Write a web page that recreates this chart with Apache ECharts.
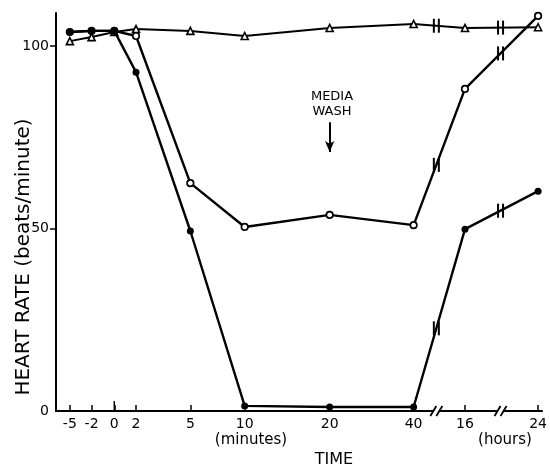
<!DOCTYPE html>
<html><head><meta charset="utf-8">
<script src="https://cdn.jsdelivr.net/npm/echarts@6/dist/echarts.min.js"></script>
<style>html,body{margin:0;padding:0;background:#fff}#c{width:550px;height:466px}</style>
</head><body><div id="c"></div>
<script>
// Time tick labels and their place on the drawn (non-linear, broken) time scale
const timeLabels = ['-5', '-2', '0', '2', '5', '10', '20', '40', '16', '24'];
const timeSlots = [14, 36, 59, 81, 136, 191, 277, 362, 414, 488];
const breakSlots = [385, 450];
// Heart rate (beats/minute)
const filledCircle = [103.8, 104.1, 104.1, 92.8, 49.3, 1.4, 1.1, 1.1, 49.8, 60.2];
const openCircle = [103.8, 104.1, 104.1, 102.7, 62.4, 50.4, 53.7, 50.9, 88.2, 108.2];
const openTriangle = [101.3, 102.4, 103.8, 104.6, 104.1, 102.7, 104.9, 106.0, 104.9, 105.1];
const yTicks = [0, 50, 100];
const washTime = '20';
const washArrow = [79.1, 70.9];

const FONT = 'DejaVu Sans';
const pts = arr => arr.map((v, i) => [timeSlots[i], v]);

function interp(arr, xs) {
  for (let i = 0; i < timeSlots.length - 1; i++) {
    if (xs >= timeSlots[i] && xs <= timeSlots[i + 1]) {
      const t = (xs - timeSlots[i]) / (timeSlots[i + 1] - timeSlots[i]);
      return arr[i] + t * (arr[i + 1] - arr[i]);
    }
  }
  return null;
}
const seriesBreaks = [];
[filledCircle, openCircle, openTriangle].forEach(arr => {
  breakSlots.forEach(b => seriesBreaks.push([b, interp(arr, b)]));
});

function renderSeriesBreak(params, api) {
  const p = api.coord([api.value(0), api.value(1)]);
  const h = 7, d = 2.5;
  const st = { stroke: '#000', lineWidth: 2 };
  return { type: 'group', children: [
    { type: 'line', shape: { x1: p[0] - d, y1: p[1] - h, x2: p[0] - d, y2: p[1] + h }, style: st },
    { type: 'line', shape: { x1: p[0] + d, y1: p[1] - h, x2: p[0] + d, y2: p[1] + h }, style: st }
  ]};
}
function renderAxisBreak(params, api) {
  const p = api.coord([api.value(0), 0]);
  const st = { stroke: '#000', lineWidth: 1.8 };
  return { type: 'group', children: [
    { type: 'rect', shape: { x: p[0] - 3, y: p[1] - 2, width: 6, height: 4 }, style: { fill: '#fff' } },
    { type: 'line', shape: { x1: p[0] - 6, y1: p[1] + 5, x2: p[0], y2: p[1] - 5 }, style: st },
    { type: 'line', shape: { x1: p[0], y1: p[1] + 5, x2: p[0] + 6, y2: p[1] - 5 }, style: st }
  ]};
}
// the taller tick at time 0
function renderZeroTick(params, api) {
  const p = api.coord([api.value(0), 0]);
  return { type: 'line', shape: { x1: p[0], y1: p[1], x2: p[0], y2: p[1] - 10 }, style: { stroke: '#000', lineWidth: 1.5 } };
}

const chart = echarts.init(document.getElementById('c'), null, { renderer: 'canvas' });
const washSlot = timeSlots[timeLabels.indexOf(washTime)];
const zeroSlot = timeSlots[timeLabels.indexOf('0')];
chart.setOption({
  animation: false,
  backgroundColor: '#fff',
  grid: { left: 56, right: 2, top: 13, bottom: 55 },
  xAxis: {
    type: 'value', min: 0, max: 492,
    axisLine: { show: true, lineStyle: { color: '#000', width: 2 } },
    axisTick: { show: true, inside: true, length: 6, customValues: timeSlots, lineStyle: { color: '#000', width: 1.5 } },
    axisLabel: {
      customValues: timeSlots, margin: 6, color: '#000', fontFamily: FONT, fontSize: 14,
      formatter: v => timeLabels[timeSlots.indexOf(v)] || ''
    },
    splitLine: { show: false }
  },
  yAxis: {
    type: 'value', min: 0, max: 109,
    axisLine: { show: true, lineStyle: { color: '#000', width: 2 } },
    axisTick: { show: true, length: 6, customValues: [50, 100], lineStyle: { color: '#000', width: 1.5 } },
    axisLabel: { customValues: yTicks, margin: 7, color: '#000', fontFamily: FONT, fontSize: 14 },
    splitLine: { show: false }
  },
  graphic: [
    { type: 'text', x: 24, y: 257, rotation: Math.PI / 2,
      style: { text: 'HEART RATE (beats/minute)', font: '20px "DejaVu Sans"', fill: '#000', align: 'center', verticalAlign: 'middle' } },
    { type: 'text', x: 251, y: 440, style: { text: '(minutes)', font: '15px "DejaVu Sans"', fill: '#000', align: 'center', verticalAlign: 'middle' } },
    { type: 'text', x: 505, y: 440, style: { text: '(hours)', font: '15px "DejaVu Sans"', fill: '#000', align: 'center', verticalAlign: 'middle' } },
    { type: 'text', x: 334, y: 460, style: { text: 'TIME', font: '16px "DejaVu Sans"', fill: '#000', align: 'center', verticalAlign: 'middle' } },
    { type: 'text', x: 332, y: 97, style: { text: 'MEDIA', font: '13px "DejaVu Sans"', fill: '#000', align: 'center', verticalAlign: 'middle' } },
    { type: 'text', x: 332, y: 112, style: { text: 'WASH', font: '13px "DejaVu Sans"', fill: '#000', align: 'center', verticalAlign: 'middle' } }
  ],
  series: [
    {
      name: 'triangle', type: 'line', data: pts(openTriangle), z: 2,
      symbol: 'triangle', symbolSize: 7, showAllSymbol: true,
      lineStyle: { color: '#000', width: 2 },
      itemStyle: { color: '#fff', borderColor: '#000', borderWidth: 1.6 },
      markLine: {
        silent: true, symbol: ['none', 'arrow'], symbolSize: [7, 11], label: { show: false },
        lineStyle: { color: '#000', width: 2, type: 'solid' },
        data: [[{ coord: [washSlot, washArrow[0]] }, { coord: [washSlot, washArrow[1]] }]]
      }
    },
    {
      name: 'open', type: 'line', data: pts(openCircle), z: 3,
      symbol: 'circle', symbolSize: 6.5, showAllSymbol: true,
      lineStyle: { color: '#000', width: 2.4 },
      itemStyle: { color: '#fff', borderColor: '#000', borderWidth: 1.7 }
    },
    {
      name: 'filled', type: 'line', data: pts(filledCircle), z: 4,
      symbol: 'circle', symbolSize: 7, showAllSymbol: true,
      lineStyle: { color: '#000', width: 2.4 },
      itemStyle: { color: '#000', borderColor: '#000', borderWidth: 0 }
    },
    { type: 'custom', renderItem: renderSeriesBreak, data: seriesBreaks, z: 5, clip: false, silent: true },
    { type: 'custom', renderItem: renderAxisBreak, data: breakSlots.map(b => [b]), z: 5, clip: false, silent: true },
    { type: 'custom', renderItem: renderZeroTick, data: [[zeroSlot]], z: 5, clip: false, silent: true }
  ]
});
</script></body></html>
